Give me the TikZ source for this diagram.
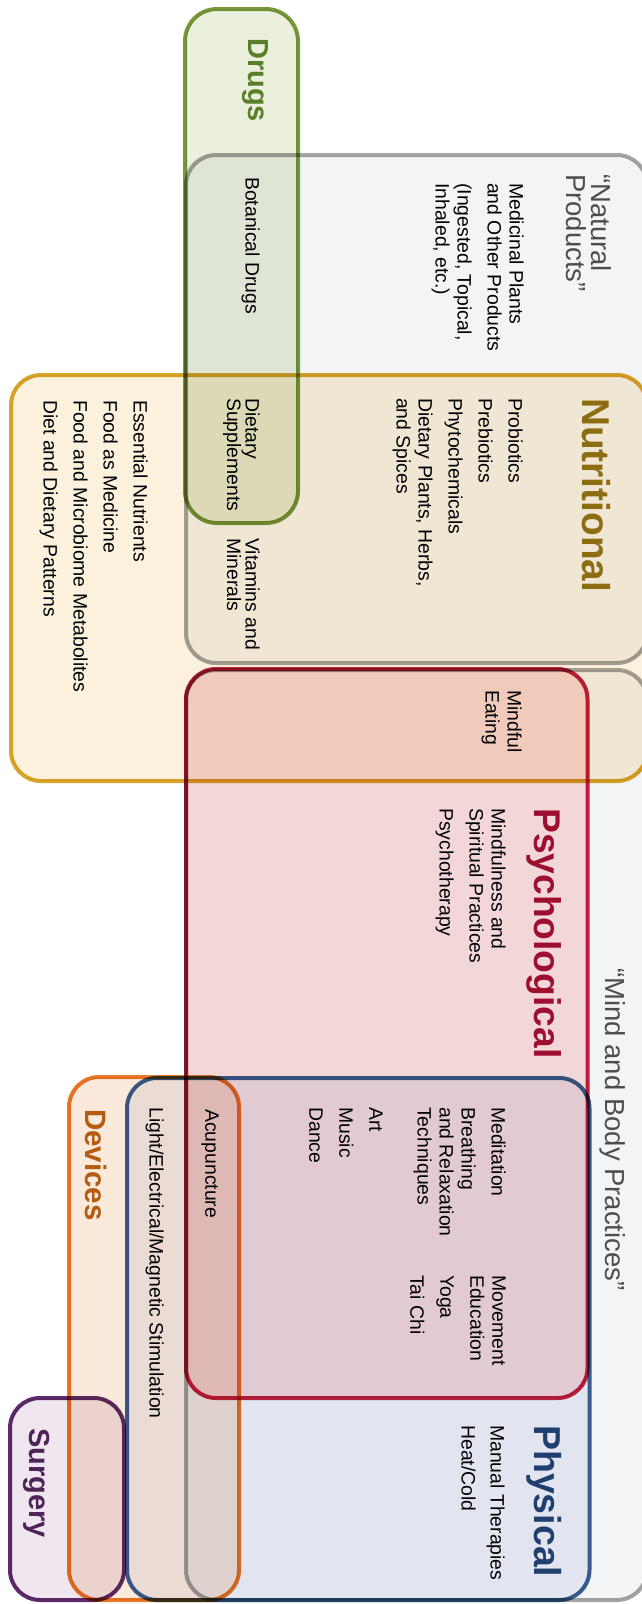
\documentclass[tikz,border=0pt]{standalone}
\usepackage{fontspec}
\setmainfont{Liberation Sans}
\definecolor{gryS}{HTML}{A6A6A6}
\definecolor{gryF}{HTML}{F3F4F6}
\definecolor{drgS}{HTML}{789A3B}
\definecolor{drgF}{HTML}{EBF0DC}
\definecolor{drgT}{HTML}{5A7F2B}
\definecolor{nutS}{HTML}{DAA628}
\definecolor{nutF}{HTML}{FCF1DC}
\definecolor{nutT}{HTML}{8C6D12}
\definecolor{psyS}{HTML}{C62240}
\definecolor{psyF}{HTML}{FFE1E0}
\definecolor{psyT}{HTML}{9C0F2F}
\definecolor{phyS}{HTML}{3A6296}
\definecolor{phyF}{HTML}{EEF0F8}
\definecolor{phyT}{HTML}{1F3F6E}
\definecolor{devS}{HTML}{E8782A}
\definecolor{devF}{HTML}{FBE9DB}
\definecolor{devT}{HTML}{B35C12}
\definecolor{surS}{HTML}{5E2C6A}
\definecolor{surF}{HTML}{EFE6EF}
\definecolor{surT}{HTML}{4E2358}
\definecolor{qtT}{HTML}{4D4D4D}
\newcommand\FItem{\fontsize{19.4}{22}\selectfont}
\newcommand\FTight{\fontsize{19.4}{18.5}\selectfont}
\newcommand\FQuote{\fontsize{27.5}{25.5}\selectfont}
\begin{document}
\begin{tikzpicture}[x=1pt,y=-1pt,
  catfill/.style={rounded corners=30pt, blend mode=multiply},
  catline/.style={rounded corners=30pt, line width=4pt, blend mode=multiply},
  lbl/.style={rotate=-90, anchor=north west, inner sep=0pt, align=left, font=\FItem, text=black},
  tlbl/.style={rotate=-90, anchor=north west, inner sep=0pt, align=left, font=\FTight, text=black},
  qlbl/.style={rotate=-90, anchor=north west, inner sep=0pt, align=left, font=\FQuote, text=qtT},
  bigt/.style={rotate=-90, anchor=north west, inner sep=0pt, font=\bfseries\fontsize{#1}{#1}\selectfont}]
\useasboundingbox (0,0) rectangle (642,1604);
\fill[white] (0,0) rectangle (642,1604);
% box fills
\path[catfill, fill=gryF] (186,155) rectangle (647,663);
\path[catfill, fill=gryF] (186,670) rectangle (647,1600);
\path[catfill, fill=nutF] (11,375) rectangle (647,781);
\path[catfill, fill=drgF, rounded corners=32pt] (185,9) rectangle (298,523);
\path[catfill, fill=psyF] (186,669) rectangle (588,1398);
\path[catfill, fill=phyF] (127,1078) rectangle (589,1600);
\path[catfill, fill=devF] (69,1077) rectangle (239,1600);
\path[catfill, fill=surF] (10,1398) rectangle (124,1600);
% box outlines
\draw[catline, draw=gryS] (186,155) rectangle (647,663);
\draw[catline, draw=gryS] (186,670) rectangle (647,1600);
\draw[catline, draw=nutS] (11,375) rectangle (647,781);
\draw[catline, draw=drgS, rounded corners=32pt] (185,9) rectangle (298,523);
\draw[catline, draw=psyS] (186,669) rectangle (587.5,1398);
\draw[catline, draw=phyS] (127,1078) rectangle (589.5,1600);
\draw[catline, draw=devS] (69,1077) rectangle (239,1600);
\draw[catline, draw=surS] (10,1398) rectangle (124,1600);
% titles
\node[bigt=29, text=drgT] (tdrugs) at (269,38) {Drugs};
\node[qlbl] (tnat) at (612,174) {“Natural\\Products”};
\node[bigt=38.8, text=nutT] (tnut) at (611,398) {Nutritional};
\node[bigt=37.2, text=psyT] (tpsy) at (562,808) {Psychological};
\node[qlbl] (tmind) at (626,968) {“Mind and Body Practices”};
\node[bigt=37.5, text=phyT] (tphy) at (562,1425) {Physical};
\node[bigt=29.5, text=devT] (tdev) at (107,1109) {Devices};
\node[bigt=29, text=surT] (tsur) at (50,1428) {Surgery};
% items
\node[lbl] (medp) at (524,183) {Medicinal Plants\\and Other Products\\[8pt](Ingested, Topical,\\Inhaled, etc.)};
\node[lbl] (botd) at (260,177) {Botanical Drugs};
\node[lbl] (prob) at (523,398) {Probiotics\\[8pt]Prebiotics\\[8pt]Phytochemicals\\[8pt]Dietary Plants, Herbs,\\and Spices};
\node[tlbl] (dsup) at (260,398) {Dietary\\Supplements};
\node[tlbl] (vitm) at (260,538) {Vitamins and\\Minerals};
\node[lbl] (essn) at (148,400) {Essential Nutrients\\[8pt]Food as Medicine\\[8pt]Food and Microbiome Metabolites\\[8pt]Diet and Dietary Patterns};
\node[lbl] (mind) at (522,690) {Mindful\\Eating};
\node[lbl] (mfsp) at (506,808) {Mindfulness and\\Spiritual Practices\\[8pt]Psychotherapy};
\node[lbl] (medi) at (506,1107) {Meditation\\[8pt]Breathing\\and Relaxation\\Techniques};
\node[lbl] (arts) at (383,1107) {Art\\[8pt]Music\\[8pt]Dance};
\node[lbl] (move) at (506,1275) {Movement\\Education\\[8pt]Yoga\\[8pt]Tai Chi};
\node[lbl] (manu) at (505,1425) {Manual Therapies\\[7pt]Heat/Cold};
\node[lbl] (acup) at (219,1109) {Acupuncture};
\node[lbl] (lems) at (164,1107) {Light/Electrical/Magnetic Stimulation};
\end{tikzpicture}
\end{document}
